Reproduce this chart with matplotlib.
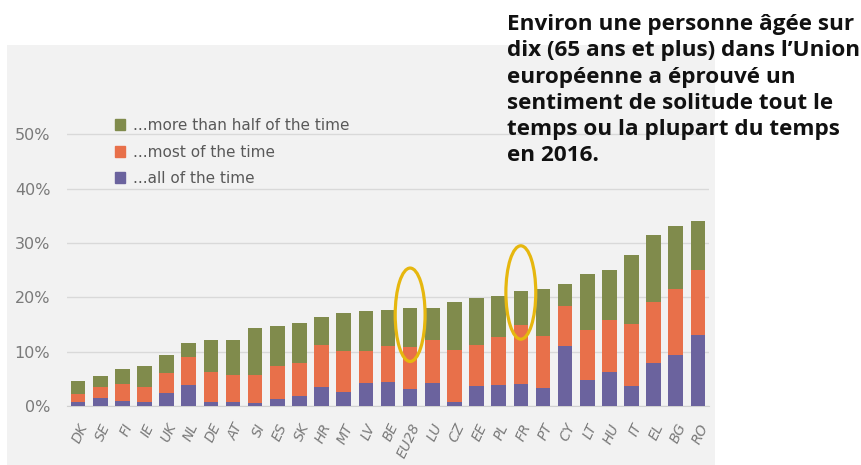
import matplotlib.pyplot as plt
from matplotlib.patches import Ellipse, Rectangle, Patch

# values (% of people aged 65+)
countries = ['DK', 'SE', 'FI', 'IE', 'UK', 'NL', 'DE', 'AT', 'SI', 'ES', 'SK', 'HR', 'MT', 'LV', 'BE',
             'EU28', 'LU', 'CZ', 'EE', 'PL', 'FR', 'PT', 'CY', 'LT', 'HU', 'IT', 'EL', 'BG', 'RO']
all_time = [0.8, 1.5, 1.0, 0.8, 2.4, 3.9, 0.8, 0.8, 0.5, 1.3, 1.9, 3.5, 2.5, 4.2, 4.5,
            3.1, 4.3, 0.7, 3.7, 3.8, 4.0, 3.4, 11.1, 4.7, 6.2, 3.6, 7.9, 9.3, 13.0]
most_time = [1.4, 2.0, 3.1, 2.7, 3.7, 5.1, 5.4, 5.0, 5.3, 6.0, 6.1, 7.8, 7.6, 6.0, 6.5,
             7.8, 7.9, 9.6, 7.6, 8.9, 11.0, 9.4, 7.3, 9.3, 9.6, 11.5, 11.3, 12.2, 12.0]
half_time = [2.4, 2.1, 2.8, 3.8, 3.2, 2.6, 5.9, 6.3, 8.6, 7.4, 7.3, 5.1, 7.0, 7.3, 6.7,
             7.1, 5.8, 8.8, 8.6, 7.5, 6.1, 8.7, 4.0, 10.3, 9.3, 12.7, 12.2, 11.7, 9.0]
highlight = ['EU28', 'FR']
yticks = [0, 10, 20, 30, 40, 50]

c_green = '#808b4c'
c_orange = '#e8704a'
c_purple = '#6b639e'
c_bg = '#f2f2f2'

fig = plt.figure(figsize=(8.62, 4.65), dpi=100)
fig.patches.append(Rectangle((7 / 862, 0), (715 - 7) / 862, (465 - 45) / 465,
                             transform=fig.transFigure, facecolor=c_bg, edgecolor='none', zorder=0))

ax = fig.add_axes([67 / 862, 59 / 465, 642 / 862, 298.7 / 465])
ax.set_zorder(2)
ax.set_facecolor(c_bg)

x = list(range(len(countries)))
w = 0.66
ax.bar(x, all_time, width=w, color=c_purple, zorder=3)
ax.bar(x, most_time, width=w, bottom=all_time, color=c_orange, zorder=3)
bottom2 = [a + b for a, b in zip(all_time, most_time)]
ax.bar(x, half_time, width=w, bottom=bottom2, color=c_green, zorder=3)

ax.set_xlim(-0.5, len(countries) - 0.5)
ax.set_ylim(0, 55)
ax.set_yticks(yticks)
ax.set_yticklabels([f'{v}%' for v in yticks], fontsize=11.5, color='#7a7a7a')
ax.yaxis.grid(True, color='#d9d9d9', linewidth=1, zorder=0)
ax.set_xticks(x)
ax.set_xticklabels(countries, rotation=65, ha='right', va='top', rotation_mode='anchor',
                   fontsize=10, style='italic', color='#7a7a7a')
ax.tick_params(axis='y', length=0, pad=12)
ax.tick_params(axis='x', length=0, pad=11)
for s in ['top', 'right', 'left']:
    ax.spines[s].set_visible(False)
ax.spines['bottom'].set_color('#d0d0d0')

# yellow rings around EU28 and FR
ring_shift = {'EU28': -1.2, 'FR': -0.2}
for name in highlight:
    i = countries.index(name)
    top = bottom2[i] + half_time[i]
    ax.add_patch(Ellipse((i, top + ring_shift[name]), 1.35, 17.2, fill=False, edgecolor='#e6b70f',
                         linewidth=2.3, zorder=5, clip_on=False))

handles = [Patch(color=c_green), Patch(color=c_orange), Patch(color=c_purple)]
labels = ['...more than half of the time', '...most of the time', '...all of the time']
leg = ax.legend(handles, labels, loc='upper left', bbox_to_anchor=(0.053, 1.01), frameon=False,
                fontsize=11, handlelength=0.7, handleheight=0.7, handletextpad=0.5, labelspacing=0.75)
for t in leg.get_texts():
    t.set_color('#595959')

fig.text(507 / 862, 1 - 14 / 465,
         "Environ une personne âgée sur\ndix (65 ans et plus) dans l’Union\neuropéenne a éprouvé un\n"
         "sentiment de solitude tout le\ntemps ou la plupart du temps\nen 2016.",
         ha='left', va='top', fontsize=16.2, fontweight='bold', color='#111111',
         family='Open Sans', linespacing=1.33, zorder=5)

fig.savefig('out.png', dpi=100)
